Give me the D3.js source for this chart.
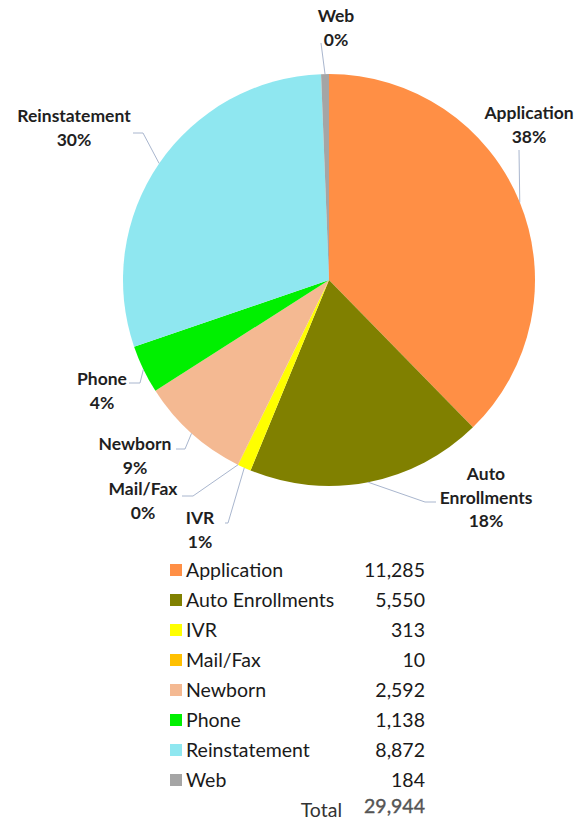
<!DOCTYPE html>
<html>
<head>
<meta charset="utf-8">
<script src="https://d3js.org/d3.v7.min.js"></script>
<style>
  body { margin: 0; background: #fff; }
  svg { display: block; }
</style>
</head>
<body>
<svg id="chart"></svg>
<script>
// enrollment channel counts
const channels = ['Application', 'Auto Enrollments', 'IVR', 'Mail/Fax', 'Newborn', 'Phone', 'Reinstatement', 'Web'];
const counts = [11285, 5550, 313, 10, 2592, 1138, 8872, 184];
// percentages as printed on the chart labels
const pctLabels = ['38%', '18%', '1%', '0%', '9%', '4%', '30%', '0%'];
const colors = ['#FF8F45', '#808000', '#FFFF00', '#FFC000', '#F4B992', '#00F000', '#8FE7F0', '#A5A5A5'];

const width = 574, height = 822;
const cx = 329, cy = 280, radius = 206;

// label placement (label centre, elbow, end of leader)
const labelLayout = {
  'Application':      {x: 529, y: 113, lines: ['Application'], elbow: null, end: [519, 150]},
  'Auto Enrollments': {x: 486, y: 474, lines: ['Auto', 'Enrollments'], elbow: [425, 502], end: [436, 502]},
  'IVR':              {x: 200, y: 518, lines: ['IVR'], elbow: [228, 523], end: [225, 523]},
  'Mail/Fax':         {x: 143, y: 489, lines: ['Mail/Fax'], elbow: [193, 496], end: [182, 496]},
  'Newborn':          {x: 135, y: 444, lines: ['Newborn'], elbow: [185, 449], end: [176, 449]},
  'Phone':            {x: 102, y: 379, lines: ['Phone'], elbow: [140, 383], end: [129, 383]},
  'Reinstatement':    {x: 74,  y: 116, lines: ['Reinstatement'], elbow: [143, 133], end: [133, 133]},
  'Web':              {x: 336, y: 16,  lines: ['Web'], elbow: null, end: [321, 43]}
};

const data = channels.map((c, i) => ({name: c, value: counts[i], color: colors[i], pct: pctLabels[i]}));
const total = d3.sum(counts);
const num = d3.format(',');

const svg = d3.select('#chart').attr('width', width).attr('height', height);

const pie = d3.pie().sort(null).value(d => d.value);
const arc = d3.arc().innerRadius(0).outerRadius(radius);
const arcs = pie(data);

const g = svg.append('g').attr('transform', `translate(${cx},${cy})`);
g.selectAll('path.slice')
  .data(arcs)
  .join('path')
    .attr('class', 'slice')
    .attr('d', arc)
    .attr('fill', d => d.data.color);

// leader lines
const line = d3.line();
arcs.forEach(a => {
  const lay = labelLayout[a.data.name];
  const mid = (a.startAngle + a.endAngle) / 2;
  const edge = [cx + radius * Math.sin(mid), cy - radius * Math.cos(mid)];
  const pts = [edge];
  if (lay.elbow) pts.push(lay.elbow);
  pts.push(lay.end);
  svg.append('path')
    .attr('d', line(pts))
    .attr('fill', 'none')
    .attr('stroke', '#A9B6CE')
    .attr('stroke-width', 1);
});

// slice labels
arcs.forEach(a => {
  const lay = labelLayout[a.data.name];
  const rows = lay.lines.concat([a.data.pct]);
  const t = svg.append('text')
    .attr('text-anchor', 'middle')
    .attr('font-family', 'Lato, sans-serif')
    .attr('font-weight', 'bold')
    .attr('font-size', 17.5)
    .attr('fill', '#1f1f1f');
  rows.forEach((r, i) => {
    t.append('tspan')
      .attr('x', lay.x)
      .attr('y', lay.y + i * 23.5)
      .attr('dy', '0.35em')
      .text(r);
  });
});

// legend table
const rowY = d3.scalePoint().domain(channels.concat(['Total'])).range([570, 810]);
const legend = svg.append('g')
  .attr('font-family', 'Lato, sans-serif')
  .attr('font-size', 19.5)
  .attr('fill', '#1a1a1a');

const rows = legend.selectAll('g.row').data(data).join('g')
  .attr('class', 'row')
  .attr('transform', d => `translate(0,${rowY(d.name)})`);
rows.append('rect')
  .attr('x', 170).attr('y', -6).attr('width', 12).attr('height', 12)
  .attr('fill', d => d.color);
rows.append('text')
  .attr('x', 186).attr('dy', '0.35em')
  .text(d => d.name);
rows.append('text')
  .attr('x', 425).attr('dy', '0.35em')
  .attr('text-anchor', 'end')
  .text(d => num(d.value));

const totalRow = legend.append('g').attr('transform', `translate(0,${rowY('Total')})`);
totalRow.append('text')
  .attr('x', 342).attr('dy', '0.35em').attr('text-anchor', 'end')
  .attr('fill', '#333')
  .text('Total');
totalRow.append('text')
  .attr('x', 425).attr('dy', '0.15em').attr('text-anchor', 'end')
  .attr('fill', '#555').attr('stroke', '#555').attr('stroke-width', 0.4)
  .text(num(total));
</script>
</body>
</html>
